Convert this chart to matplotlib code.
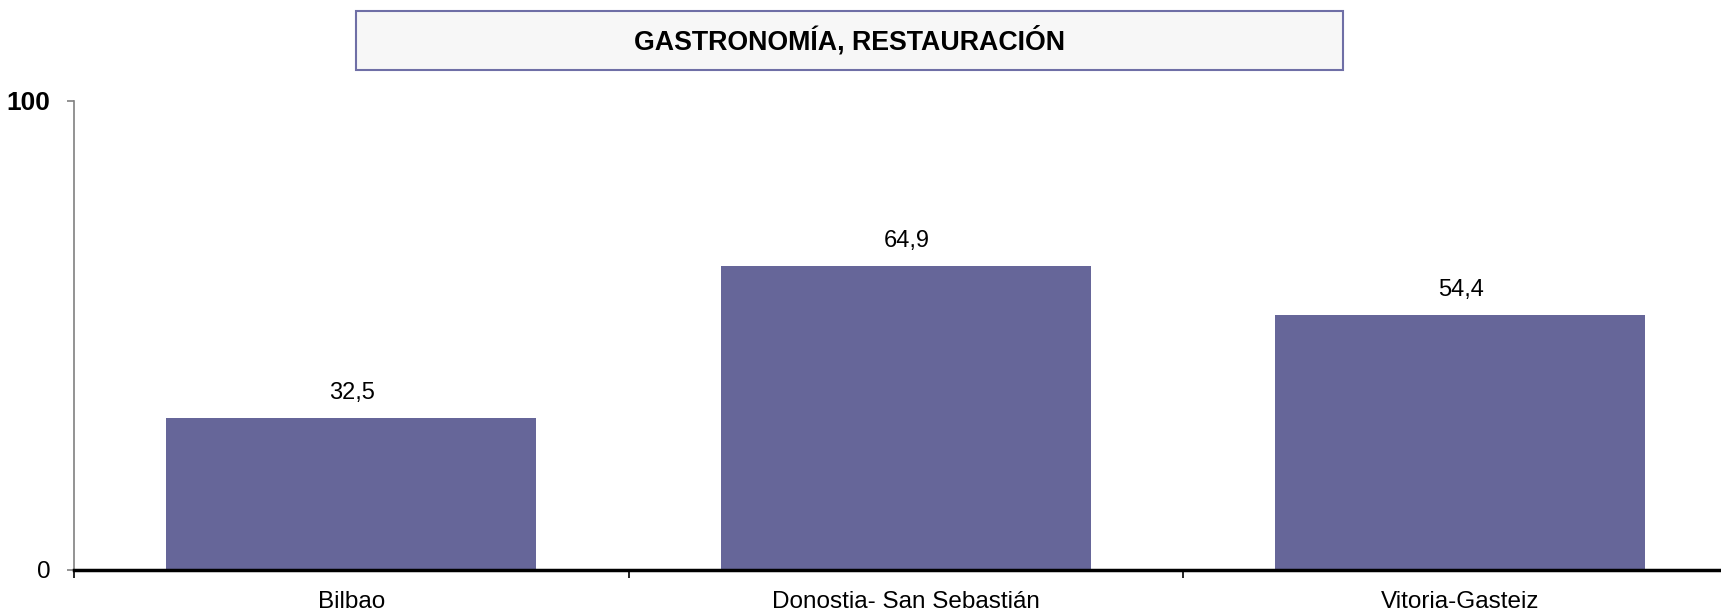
import numpy as np
from matplotlib import pyplot as plt
from matplotlib.patches import Rectangle
from matplotlib.transforms import ScaledTranslation

# data
cities = ["Bilbao", "Donostia- San Sebastián", "Vitoria-Gasteiz"]
values = [32.5, 64.9, 54.4]
value_labels = ["32,5", "64,9", "54,4"]
title = "GASTRONOMÍA, RESTAURACIÓN"
yticks = [0, 100]

plt.rcParams["font.family"] = ["Liberation Sans", "DejaVu Sans"]

W, H = 1721, 611
fig = plt.figure(figsize=(W / 100, H / 100), dpi=100)

# axes box in pixels: left 74, bottom 570, top 101, category width 554.5
ax = fig.add_axes([74 / W, (H - 570) / H, 554.5 * 3 / W, (570 - 101) / H])
x = np.arange(len(cities))
ax.bar(x, values, width=0.667, color="#666699", zorder=2)
ax.set_xlim(-0.5, len(cities) - 0.5)
ax.set_ylim(0, 100)

for xi, v, lab in zip(x, values, value_labels):
    ax.annotate(lab, (xi, v), xytext=(1, 14), textcoords="offset pixels",
                ha="center", va="bottom", fontsize=17)

ax.spines["top"].set_visible(False)
ax.spines["right"].set_visible(False)
ax.spines["left"].set_color("#808080")
ax.spines["left"].set_linewidth(1.2)
ax.spines["bottom"].set_linewidth(2.5)
ax.spines["bottom"].set_zorder(3)

ax.set_yticks(yticks)
ax.set_yticklabels([str(t) for t in yticks], fontsize=19)
ylabs = ax.get_yticklabels()
ylabs[1].set_fontweight("bold")
ylabs[0].set_fontsize(17.5)
ylabs[0].set_transform(ylabs[0].get_transform() + ScaledTranslation(-5 / 100, 0, fig.dpi_scale_trans))
ax.tick_params(axis="y", length=5, width=1.2, color="#808080", pad=12)

ax.set_xticks(np.arange(len(cities) + 1) - 0.5, minor=True)
ax.set_xticks(x)
ax.set_xticklabels(cities, fontsize=17.5)
ax.tick_params(axis="x", which="major", length=0, pad=15)
ax.tick_params(axis="x", which="minor", length=6, width=1.2, color="black")

# title box
bx0, bx1, by0, by1 = 356, 1343, 11, 70
fig.patches.append(Rectangle((bx0 / W, (H - by1) / H), (bx1 - bx0) / W, (by1 - by0) / H,
                             transform=fig.transFigure, facecolor="#f7f7f7",
                             edgecolor="#6f6fa6", linewidth=1.5))
fig.text((bx0 + bx1) / 2 / W, (H - 41) / H, title, ha="center", va="center",
         fontsize=19.3, fontweight="bold")

fig.savefig("out.png", dpi=100)
